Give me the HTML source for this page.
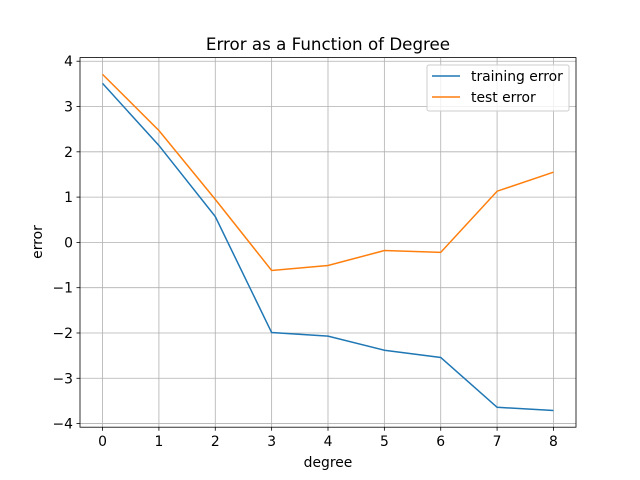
<!DOCTYPE html>
<html><head><meta charset="utf-8"><style>body{margin:0;background:#fff}svg{display:block;font-family:"DejaVu Sans","Liberation Sans",sans-serif}</style></head>
<body>
<svg id="chart" width="640" height="480"></svg>
<script>
const degrees=[0,1,2,3,4,5,6,7,8];
const trainingError=[3.51,2.14,0.57,-1.99,-2.07,-2.38,-2.54,-3.64,-3.71];
const testError=[3.71,2.47,0.95,-0.62,-0.51,-0.18,-0.22,1.13,1.55];
const xTicks=[0,1,2,3,4,5,6,7,8];
const yTicks=[-4,-3,-2,-1,0,1,2,3,4];
const yTickLabels=["−4","−3","−2","−1","0","1","2","3","4"];
const L=80,R=576,T=57.6,B=427.2;
const xmin=-0.4,xmax=8.4,ymin=-4.08,ymax=4.08;
const xs=v=>L+(v-xmin)/(xmax-xmin)*(R-L);
const ys=v=>B-(v-ymin)/(ymax-ymin)*(B-T);
const svg=document.getElementById('chart');const NS='http://www.w3.org/2000/svg';
function mk(t,a,txt){const e=document.createElementNS(NS,t);for(const k in a)e.setAttribute(k,a[k]);if(txt!==undefined)e.textContent=txt;svg.appendChild(e);return e;}
xTicks.forEach(v=>{const x=xs(v);
const g=mk('line',{x1:x,x2:x,y1:T,y2:B,stroke:'#b0b0b0','stroke-width':0.8});


mk('line',{x1:x,x2:x,y1:B,y2:B+3.5,stroke:'#000','stroke-width':0.8});
const t=mk('text',{x:x,y:B+19,'text-anchor':'middle','font-size':13.9},String(v));

});
yTicks.forEach((v,i)=>{const y=ys(v);
const g=mk('line',{x1:L,x2:R,y1:y,y2:y,stroke:'#b0b0b0','stroke-width':0.8});


mk('line',{x1:L-3.5,x2:L,y1:y,y2:y,stroke:'#000','stroke-width':0.8});
const t=mk('text',{x:L-7,y:y+5,'text-anchor':'end','font-size':13.9},yTickLabels[i]);

});
function series(vals,color,name){const p=mk('polyline',{points:vals.map((v,i)=>xs(degrees[i])+','+ys(v)).join(' '),fill:'none',stroke:color,'stroke-width':1.5});

}
series(trainingError,'#1f77b4','training-error-line');
series(testError,'#ff7f0e','test-error-line');
const fr=mk('rect',{x:L,y:T,width:R-L,height:B-T,fill:'none',stroke:'#000','stroke-width':0.8});


const ti=mk('text',{x:(L+R)/2,y:50,'text-anchor':'middle','font-size':16.7},'Error as a Function of Degree');


const xl=mk('text',{x:(L+R)/2,y:467,'text-anchor':'middle','font-size':13.9},'degree');


const yl=mk('text',{x:42,y:242,'text-anchor':'middle','font-size':13.9,transform:'rotate(-90 42 242)'},'error');


const lg=mk('rect',{x:427,y:65,width:142,height:46,fill:'#fff','fill-opacity':0.8,stroke:'#ccc','stroke-width':1,rx:2});


[['training error','#1f77b4',76],['test error','#ff7f0e',97]].forEach(([n,c,y])=>{
mk('line',{x1:432,x2:460,y1:y,y2:y,stroke:c,'stroke-width':1.5});
const t=mk('text',{x:471,y:y+5,'font-size':13.9},n);

});
</script>
</body></html>
